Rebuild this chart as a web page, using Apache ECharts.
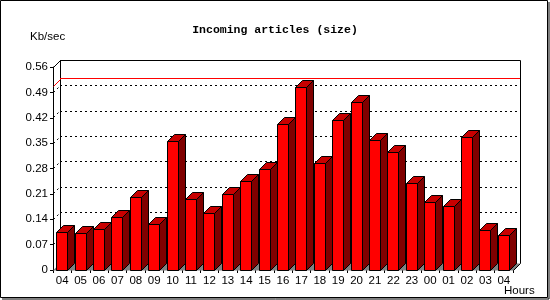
<!DOCTYPE html>
<html>
<head>
<meta charset="utf-8">
<script src="https://cdn.jsdelivr.net/npm/echarts@6/dist/echarts.min.js"></script>
<style>html,body{margin:0;padding:0;background:#fff}#c{width:550px;height:300px}</style>
</head>
<body>
<div id="c"></div>
<script>
const categories = ['04','05','06','07','08','09','10','11','12','13','14','15','16','17','18','19','20','21','22','23','00','01','02','03','04'];
const values = [0.104,0.101,0.112,0.145,0.200,0.126,0.355,0.195,0.156,0.209,0.245,0.278,0.402,0.504,0.294,0.413,0.463,0.358,0.325,0.239,0.187,0.176,0.366,0.108,0.096];
const maxLine = [0.505];
const gridTicks = [0.07,0.14,0.21,0.28,0.35,0.42,0.49];
const yMin = 0, yMax = 0.56, yStep = 0.07;

const D = 7; // 3D depth
const chart = echarts.init(document.getElementById('c'), null, {renderer:'canvas'});
const font = 'Liberation Sans';
const r5 = v => Math.round(v - 0.5) + 0.5;

function barItem(params, api) {
  const top = api.coord([api.value(0), api.value(1)]);
  const base = api.coord([api.value(0), 0]);
  const bw = api.size([1, 0])[0];
  const w = bw * 0.6;
  const l = r5(top[0] - w / 2), r = r5(top[0] + w / 2);
  const t = r5(top[1]), b = r5(base[1]);
  const st = {stroke:'#000', lineWidth:1};
  return {type:'group', children:[
    {type:'polygon', shape:{points:[[r,t],[r+D,t-D],[r+D,b-D],[r,b]]}, style:Object.assign({fill:'#800000'}, st)},
    {type:'polygon', shape:{points:[[l,t],[l+D,t-D],[r+D,t-D],[r,t]]}, style:Object.assign({fill:'#c80000'}, st)},
    {type:'rect', shape:{x:l, y:t, width:r-l, height:b-t}, style:Object.assign({fill:'#ff0000'}, st)}
  ]};
}

function floorItem(params, api) {
  const base = api.coord([api.value(0), 0]);
  const bw = api.size([1, 0])[0];
  const x0 = base[0] - bw / 2, x1 = base[0] + bw / 2 + 0.6;
  const b = r5(base[1]);
  return {type:'polygon', shape:{points:[[x0,b],[x0+D,b-D],[x1+D,b-D],[x1,b]]}, style:{fill:'#808080'}};
}

function floorEdge(params, api) {
  const cs = params.coordSys;
  const b = r5(cs.y + cs.height);
  const xr = r5(cs.x + cs.width), xl = r5(cs.x);
  return {type:'group', children:[
    {type:'polyline', shape:{points:[[xr,b],[xr+D,b-D],[xr+D,r5(cs.y)-D]]}, style:{stroke:'#000', lineWidth:1, fill:null}},
    {type:'polyline', shape:{points:[[xl,r5(cs.y)],[xl+D,r5(cs.y)-D],[xr+D,r5(cs.y)-D]]}, style:{stroke:'#000', lineWidth:1, fill:null}},
    {type:'line', shape:{x1:xl+D, y1:r5(cs.y)-D, x2:xl+D, y2:b-D}, style:{stroke:'#000', lineWidth:1}}
  ]};
}

function wallTick(params, api) {
  const cs = params.coordSys;
  const p = api.coord([0, api.value(1)]);
  const x = r5(cs.x), y = r5(p[1]);
  const dotted = api.value(2) === 1;
  return {type:'line', shape:{x1:x, y1:y, x2:x+D, y2:y-D},
    style:{stroke: dotted ? '#000' : '#ff0000', lineWidth:1, lineDash: dotted ? [2,3] : null}};
}

const option = {
  backgroundColor:'#fff',
  animation:false,
  title:{text:'Incoming articles (size)', left:'center', top:19,
    textStyle:{fontFamily:'Liberation Mono', fontWeight:'bold', fontSize:11.5, color:'#000'}},
  grid:[
    {left:53, top:67, width:460, height:203, show:false},
    {left:60, top:60, width:460, height:203, show:false}
  ],
  xAxis:[
    {type:'category', gridIndex:0, data:categories, boundaryGap:true,
      axisLine:{show:false},
      axisTick:{show:true, length:3, lineStyle:{color:'#000'}, alignWithLabel:false},
      axisLabel:{color:'#000', fontFamily:font, fontSize:11.5, margin:5, interval:0}},
    {type:'category', gridIndex:1, data:categories, show:false}
  ],
  yAxis:[
    {type:'value', gridIndex:0, min:yMin, max:yMax, interval:yStep,
      axisLine:{show:true, lineStyle:{color:'#000'}},
      axisTick:{show:true, length:3, lineStyle:{color:'#000'}},
      axisLabel:{color:'#000', fontFamily:font, fontSize:11.5, margin:5,
        formatter:v => v === 0 ? '0' : v.toFixed(2)},
      splitLine:{show:false}},
    {type:'value', gridIndex:1, min:yMin, max:yMax, interval:yStep,
      axisLine:{show:false}, axisTick:{show:false}, axisLabel:{show:false},
      splitLine:{show:true, lineStyle:{color:'#000', type:[2,3], width:1}}}
  ],
  graphic:[
    {type:'rect', shape:{x:0.5, y:0.5, width:547, height:297}, style:{fill:null, stroke:'#000', lineWidth:1}, z:100},
    {type:'line', shape:{x1:549, y1:2, x2:549, y2:299}, style:{stroke:'#000', lineWidth:1}, z:100},
    {type:'line', shape:{x1:2, y1:299, x2:549, y2:299}, style:{stroke:'#000', lineWidth:1}, z:100},
    {type:'text', left:30, top:31, style:{text:'Kb/sec', fontFamily:font, fontSize:11.5, fill:'#000'}},
    {type:'text', left:504, top:285, style:{text:'Hours', fontFamily:font, fontSize:11.5, fill:'#000'}}
  ],
  series:[
    {type:'custom', name:'floor', xAxisIndex:0, yAxisIndex:0, z:2, renderItem:floorItem,
      data:categories.map((c,i)=>[i,0]), silent:true},
    {type:'custom', name:'wall', xAxisIndex:0, yAxisIndex:0, z:3, renderItem:floorEdge, data:[[0,0]], silent:true},
    {type:'custom', name:'wallTicks', xAxisIndex:0, yAxisIndex:0, z:3, renderItem:wallTick,
      data:gridTicks.map(v=>[0, v, 1]).concat(maxLine.map(v=>[0, v, 0])), encode:{x:0, y:1}, silent:true},
    {type:'line', name:'maxline', xAxisIndex:1, yAxisIndex:1, data:[], z:15,
      markLine:{silent:true, symbol:'none', label:{show:false}, animation:false,
        lineStyle:{color:'#ff0000', type:'solid', width:1},
        data:[{yAxis:maxLine[0]}]}},
    {type:'custom', name:'size', xAxisIndex:0, yAxisIndex:0, z:10, renderItem:barItem,
      data:values.map((v,i)=>[i,v]), encode:{x:0, y:1}},
    {type:'line', xAxisIndex:0, yAxisIndex:0, data:[], markLine:{silent:true, symbol:'none', label:{show:false},
      lineStyle:{color:'#000', type:'solid', width:1}, data:[[{coord:[-0.5,0]},{coord:[24.5,0]}]]}, z:20}
  ]
};
chart.setOption(option);
</script>
</body>
</html>
